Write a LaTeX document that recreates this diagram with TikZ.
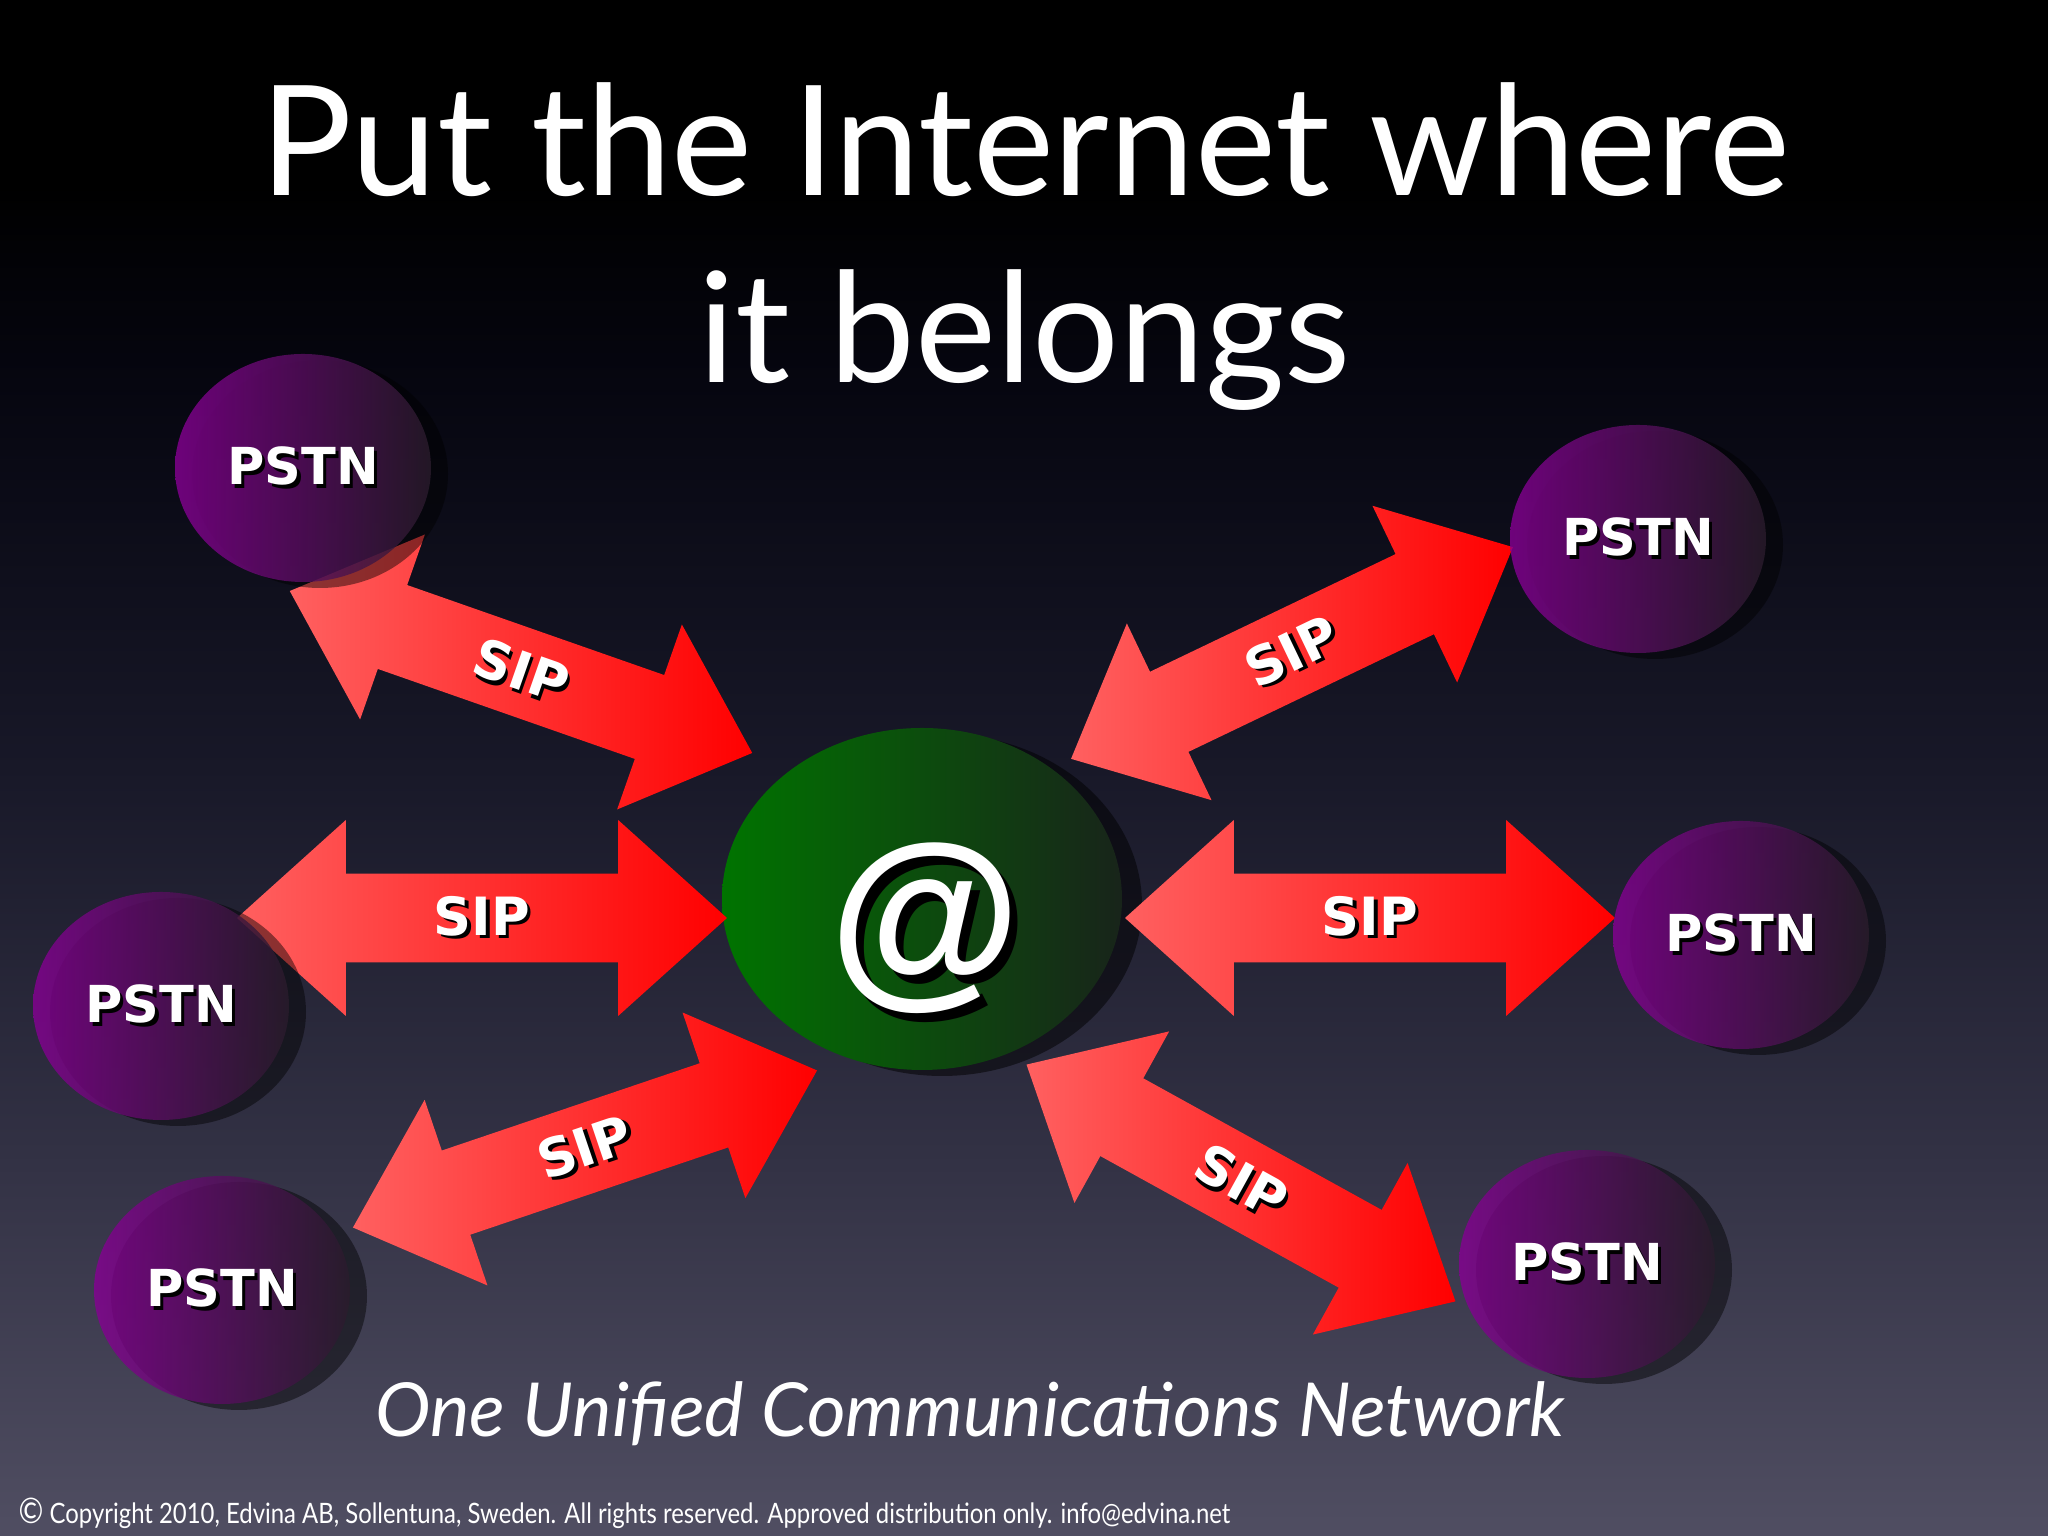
\documentclass[tikz,border=0pt]{standalone}
\usepackage{fontspec}
\setmainfont{Lato}
\newfontfamily\narrowfont[FakeStretch=0.85]{Lato}
\newfontfamily\heavyfont{DejaVu Sans}
\newfontfamily\atfont{Liberation Sans}
\usepackage{tikz}
\usetikzlibrary{shapes.geometric,shapes.arrows}

\definecolor{bgbot}{RGB}{80,78,98}
\definecolor{bglow}{RGB}{50,49,68}
\definecolor{bgmid}{RGB}{24,24,40}
\definecolor{bghigh}{RGB}{6,6,16}
\definecolor{pstnleft}{RGB}{135,0,148}
\definecolor{pstnright}{RGB}{42,28,44}
\definecolor{netleft}{RGB}{0,116,0}
\definecolor{netright}{RGB}{24,36,26}
\definecolor{siplight}{RGB}{255,96,96}
\definecolor{sipred}{RGB}{255,0,0}

\pgfdeclareverticalshading{slidebg}{100bp}{color(0bp)=(bgbot); color(25bp)=(bgbot); color(37.5bp)=(bglow); color(50bp)=(bgmid); color(62.5bp)=(bghigh); color(69bp)=(black); color(100bp)=(black)}

\newcommand{\dropshadow}[2]{\makebox[0pt][l]{\hspace*{#1}\raisebox{-#1}{\color{black}#2}}#2}

\tikzset{
	pstn/.style={ellipse, minimum width=2.56cm, minimum height=2.28cm, inner sep=0pt,
		left color=pstnleft, right color=pstnright, fill opacity=0.8, text opacity=1,
		text=white, font=\heavyfont\bfseries\fontsize{14.5}{16}\selectfont},
	pstnshadow/.style={ellipse, minimum width=2.56cm, minimum height=2.28cm, fill=black, fill opacity=0.45},
	sip/.style={double arrow, double arrow tip angle=84, double arrow head extend=0.27cm,
		minimum height=4.9cm, minimum width=1.96cm, inner sep=0pt,
		left color=siplight, right color=sipred,
		text=white, font=\heavyfont\bfseries\fontsize{15}{16}\selectfont},
}

\begin{document}
\begin{tikzpicture}
	\useasboundingbox (0,0) rectangle (20.48,15.36);
	%background
	\shade[shading=slidebg] (0,0) rectangle (20.48,15.36);
	
	%title
	\node[anchor=base, text=white, font=\fontsize{43.6}{50}\selectfont] (title1) at (10.25,13.40) {Put the Internet where};
	\node[anchor=base, text=white, font=\fontsize{43.6}{50}\selectfont] (title2) at (10.25,11.53) {it belongs};
	
	%centre
	\node[ellipse, minimum width=4cm, minimum height=3.42cm, fill=black, fill opacity=0.5] (netshadow) at (9.42,6.31) {};
	\node[ellipse, minimum width=4cm, minimum height=3.42cm, left color=netleft, right color=netright] (net) at (9.22,6.37) {};
	\node[text=white, font=\atfont\bfseries\fontsize{56}{56}\selectfont] (at) at (9.25,6.03) {\dropshadow{2.5pt}{@}};
	
	%arrows
	\node[sip, rotate=-19.3] (sip1) at (5.21,8.64)  {\dropshadow{1pt}{SIP}};
	\node[sip, rotate=25.6]  (sip2) at (12.92,8.83) {\dropshadow{1pt}{SIP}};
	\node[sip]               (sip3) at (4.82,6.18)  {\dropshadow{1pt}{SIP}};
	\node[sip, rotate=18.7]  (sip4) at (5.85,3.87)  {\dropshadow{1pt}{SIP}};
	\node[sip]               (sip5) at (13.70,6.18) {\dropshadow{1pt}{SIP}};
	\node[sip, rotate=-28.9] (sip6) at (12.41,3.53) {\dropshadow{1pt}{SIP}};
	
	%pstn shadows
	\foreach \x/\y in {3.03/10.68, 16.38/9.97, 1.61/5.30, 17.41/6.01, 2.22/2.46, 15.87/2.72}
		\node[pstnshadow] at (\x+0.17,\y-0.06) {};
	
	%pstn
	\node[pstn] (pstn1) at (3.03,10.68) {\dropshadow{1pt}{PSTN}};
	\node[pstn] (pstn2) at (16.38,9.97) {\dropshadow{1pt}{PSTN}};
	\node[pstn] (pstn3) at (1.61,5.30)  {\dropshadow{1pt}{PSTN}};
	\node[pstn] (pstn4) at (17.41,6.01) {\dropshadow{1pt}{PSTN}};
	\node[pstn] (pstn5) at (2.22,2.46)  {\dropshadow{1pt}{PSTN}};
	\node[pstn] (pstn6) at (15.87,2.72) {\dropshadow{1pt}{PSTN}};
	
	%footer
	\node[anchor=base, text=white, font=\itshape\fontsize{21.2}{24}\selectfont] (motto) at (9.70,0.99) {One Unified Communications Network};
	\node[anchor=base west, inner sep=0pt, text=white, font=\narrowfont\fontsize{8}{9}\selectfont] (copy) at (0.18,0.12) {{\fontsize{10}{10}\selectfont ©} Copyright 2010, Edvina AB, Sollentuna, Sweden. All rights reserved. Approved distribution only. info@edvina.net};
\end{tikzpicture}
\end{document}
